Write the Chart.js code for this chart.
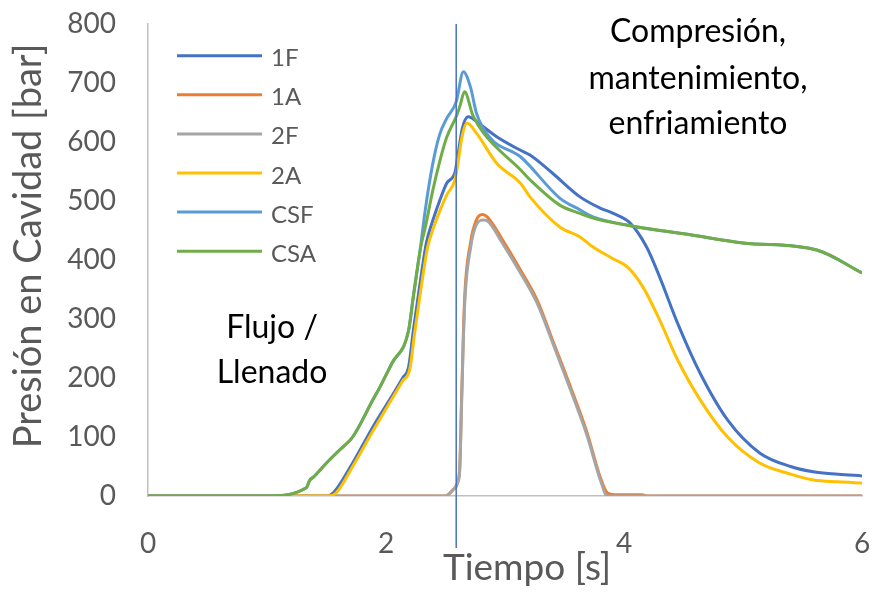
<!DOCTYPE html>
<html>
<head>
<meta charset="utf-8">
<script src="https://cdn.jsdelivr.net/npm/chart.js@4.4.1/dist/chart.umd.min.js"></script>
<style>
  html, body { margin: 0; padding: 0; background: #ffffff; }
  #wrap { width: 873px; height: 592px; }
</style>
</head>
<body>
<div id="wrap"><canvas id="c" width="873" height="592"></canvas></div>
<script>
// Cavity pressure traces (time in s, pressure in bar)
const seriesNames  = ['1F', '1A', '2F', '2A', 'CSF', 'CSA'];
const seriesColors = ['#4472C4', '#ED7D31', '#A5A5A5', '#FFC000', '#5B9BD5', '#70AD47'];

const t1F = [0, 1.50, 1.56, 1.72, 1.89, 2.03, 2.14, 2.19, 2.23, 2.29, 2.34, 2.39, 2.45, 2.51, 2.58, 2.60, 2.64, 2.69, 2.79, 2.93, 3.13, 3.21, 3.40, 3.63, 3.80, 3.91, 4.05, 4.19, 4.30, 4.45, 4.64, 4.87, 5.14, 5.40, 5.59, 5.80, 6.00];
const p1F = [0, 0, 6, 56, 117, 163, 200, 219, 281, 366, 430, 465, 500, 530, 549, 572, 622, 643, 630, 609, 586, 578, 547, 507, 488, 479, 463, 422, 371, 293, 208, 129, 73, 50, 41, 37, 34];

const t1A = [0, 2.50, 2.56, 2.60, 2.62, 2.635, 2.66, 2.71, 2.76, 2.81, 2.85, 2.98, 3.13, 3.27, 3.40, 3.55, 3.69, 3.80, 3.86, 3.92, 4.15, 4.20, 6.00];
const p1A = [0, 0, 10, 22, 50, 163, 332, 429, 468, 477, 473, 434, 383, 332, 264, 185, 107, 32, 5, 2, 2, 0, 0];

const t2F = [0, 2.50, 2.56, 2.60, 2.62, 2.635, 2.66, 2.71, 2.76, 2.82, 2.86, 2.98, 3.13, 3.27, 3.40, 3.55, 3.69, 3.80, 3.86, 6.00];
const p2F = [0, 0, 10, 22, 45, 155, 320, 420, 460, 468, 465, 428, 378, 327, 260, 180, 102, 28, 0, 0];

const t2A = [0, 1.52, 1.58, 1.72, 1.89, 2.03, 2.14, 2.20, 2.24, 2.30, 2.35, 2.40, 2.45, 2.51, 2.58, 2.60, 2.64, 2.68, 2.76, 2.93, 3.13, 3.21, 3.46, 3.63, 3.74, 3.90, 4.03, 4.16, 4.30, 4.45, 4.64, 4.87, 5.14, 5.40, 5.59, 5.80, 6.00];
const p2A = [0, 0, 5, 50, 110, 158, 195, 215, 275, 360, 422, 455, 482, 510, 536, 558, 610, 632, 615, 564, 530, 507, 456, 439, 422, 403, 388, 354, 298, 231, 163, 100, 56, 37, 27, 24, 22];

const tCSF = [0, 0.99, 1.33, 1.36, 1.39, 1.50, 1.61, 1.72, 1.89, 1.95, 2.05, 2.19, 2.23, 2.29, 2.33, 2.39, 2.45, 2.51, 2.59, 2.65, 2.71, 2.76, 2.87, 3.13, 3.46, 3.63, 3.74, 4.03, 4.58, 5.00, 5.62, 6.00];
const pCSF = [0, 0, 14, 27, 32, 56, 78, 100, 163, 185, 225, 281, 340, 422, 485, 560, 612, 640, 668, 719, 693, 649, 608, 575, 505, 485, 473, 459, 442, 429, 417, 378];

const tCSA = [0, 0.99, 1.33, 1.36, 1.39, 1.50, 1.61, 1.72, 1.89, 1.95, 2.05, 2.19, 2.23, 2.29, 2.33, 2.39, 2.45, 2.51, 2.59, 2.62, 2.66, 2.73, 2.82, 3.13, 3.21, 3.46, 3.63, 3.74, 4.03, 4.58, 5.00, 5.62, 6.00];
const pCSA = [0, 0, 14, 27, 32, 56, 78, 100, 163, 185, 225, 281, 337, 420, 455, 515, 566, 608, 643, 660, 685, 645, 615, 553, 536, 493, 479, 471, 459, 442, 429, 417, 378];

const xTicks = [0, 2, 4, 6];
const yTicks = [0, 100, 200, 300, 400, 500, 600, 700, 800];

// end of the filling stage, marked with a vertical line
const fillEndTime = 2.59;

const xTitle = 'Tiempo [s]';
const yTitle = 'Presión en Cavidad [bar]';
const stageLeft  = ['Flujo /', 'Llenado'];
const stageRight = ['Compresión,', 'mantenimiento,', 'enfriamiento'];

const times  = [t1F, t1A, t2F, t2A, tCSF, tCSA];
const values = [p1F, p1A, p2F, p2A, pCSF, pCSA];

const FONT = 'Lato, "Open Sans", sans-serif';
const GREY_TEXT = '#595959';

const datasets = seriesNames.map((name, i) => ({
  label: name,
  data: times[i].map((t, k) => ({ x: t, y: values[i][k] })),
  borderColor: seriesColors[i],
  backgroundColor: seriesColors[i],
  borderWidth: 3,
  pointRadius: 0,
  fill: false,
  cubicInterpolationMode: 'monotone',
  order: seriesNames.length - i   // later series drawn on top
}));

const decorations = {
  id: 'decorations',
  afterDatasetsDraw(chart) {
    const { ctx, chartArea, scales } = chart;
    // fill-end marker
    const xm = scales.x.getPixelForValue(fillEndTime);
    ctx.save();
    ctx.strokeStyle = '#4472C4';
    ctx.lineWidth = 1.5;
    ctx.beginPath();
    ctx.moveTo(xm, chartArea.top);
    ctx.lineTo(xm, chartArea.bottom + 52);
    ctx.stroke();
    ctx.restore();
  },
  afterDraw(chart) {
    const { ctx } = chart;
    ctx.save();

    // legend inside the plot
    ctx.font = '24px ' + FONT;
    ctx.textAlign = 'left';
    ctx.textBaseline = 'alphabetic';
    chart.data.datasets.forEach((ds, i) => {
      const y = 55.7 + i * 39.1;
      ctx.strokeStyle = ds.borderColor;
      ctx.lineWidth = 3;
      ctx.beginPath();
      ctx.moveTo(177, y);
      ctx.lineTo(262, y);
      ctx.stroke();
      ctx.fillStyle = GREY_TEXT;
      ctx.fillText(ds.label, 271, y + 10.5);
    });

    // stage annotations
    ctx.fillStyle = '#000000';
    ctx.textAlign = 'center';
    ctx.font = '32px ' + FONT;
    const rightBase = [42, 89, 134];
    stageRight.forEach((s, i) => ctx.fillText(s, 698, rightBase[i]));
    const leftBase = [338, 383];
    stageLeft.forEach((s, i) => ctx.fillText(s, 272, leftBase[i]));

    // axis titles
    ctx.fillStyle = GREY_TEXT;
    ctx.font = '37px ' + FONT;
    ctx.fillText(xTitle, 527, 580);
    ctx.font = '38px ' + FONT;
    ctx.translate(41, 246);
    ctx.rotate(-Math.PI / 2);
    ctx.fillText(yTitle, 0, 0);
    ctx.restore();
  }
};

new Chart(document.getElementById('c'), {
  type: 'line',
  data: { datasets },
  options: {
    responsive: false,
    animation: false,
    layout: { padding: { top: 24, right: 11, left: 0, bottom: 0 } },
    plugins: { legend: { display: false }, tooltip: { enabled: false } },
    scales: {
      x: {
        type: 'linear',
        min: 0, max: 6,
        afterBuildTicks: s => { s.ticks = xTicks.map(v => ({ value: v })); },
        afterFit: s => { s.height = 96; s.paddingLeft = 0; s.paddingRight = 0; },
        grid: { display: false, drawTicks: false },
        border: { display: true, color: '#BFBFBF', width: 1.5 },
        ticks: { color: GREY_TEXT, font: { family: FONT, size: 28 }, padding: 31, maxRotation: 0 }
      },
      y: {
        type: 'linear',
        min: 0, max: 800,
        afterBuildTicks: s => { s.ticks = yTicks.map(v => ({ value: v })); },
        afterFit: s => { s.width = 148; s.paddingTop = 0; s.paddingBottom = 0; },
        grid: { display: false, drawTicks: false },
        border: { display: true, color: '#BFBFBF', width: 1.5 },
        ticks: { color: GREY_TEXT, font: { family: FONT, size: 28 }, padding: 32 }
      }
    }
  },
  plugins: [decorations]
});
</script>
</body>
</html>
